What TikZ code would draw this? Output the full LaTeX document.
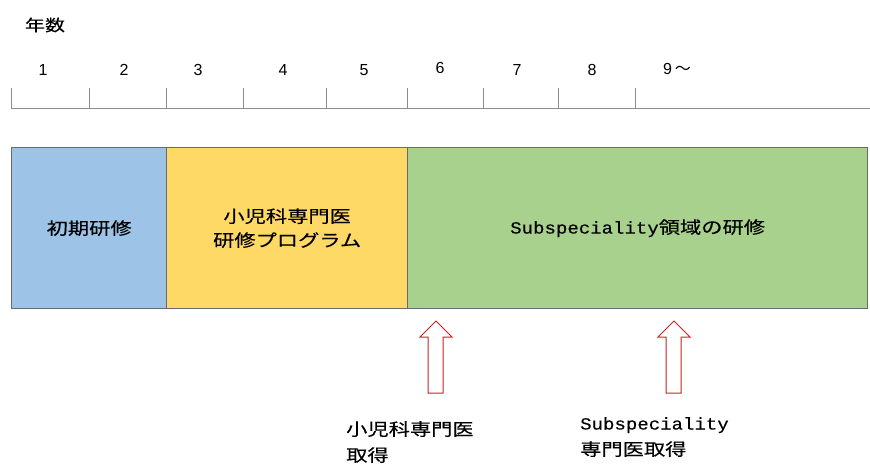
\documentclass[tikz,border=0pt]{standalone}
\usepackage{fontspec}
\setmainfont{Noto Sans CJK JP}[FakeStretch=1.25,FakeBold=0.3]
\newfontfamily\mono{Liberation Mono}[FakeStretch=1.12,FakeBold=0.3]
\newfontfamily\arial{Liberation Sans}
\newfontfamily\jpplain{Noto Sans CJK JP}
\definecolor{cblue}{HTML}{9DC3E6}
\definecolor{cyellow}{HTML}{FFD966}
\definecolor{cgreen}{HTML}{A9D18E}
\definecolor{cborder}{HTML}{6A6A6A}
\definecolor{caxis}{HTML}{8C8C8C}
\definecolor{cred}{HTML}{D02020}
\tikzset{
  period/.style={draw=cborder, line width=1.3pt, anchor=north west, inner sep=0pt, font=\fontsize{17}{24}\selectfont, align=center},
  yearnum/.style={font=\arial\fontsize{16}{18}\selectfont, inner sep=0pt},
  tick/.style={draw=caxis, line width=0.9pt},
  hollowarrow/.style={draw=cred, line width=1pt, fill=white},
  note/.style={font=\fontsize{17}{26}\selectfont, align=left, anchor=north west, inner sep=0pt}
}
\begin{document}
\begin{tikzpicture}[x=1pt,y=-1pt]
\useasboundingbox (0,0) rectangle (870,468);
% header
\node[font=\fontsize{16}{18}\selectfont, inner sep=0pt] (hdr) at (45,25) {年数};
% axis
\coordinate (axL) at (11,108);
\coordinate (axR) at (870,108);
\draw[tick] (axL) -- (axR);
\foreach \x in {11,89,166,243,326,407,483,558,635}{
  \draw[tick] (\x,88) -- (\x,108);
}
\node[yearnum] (y1) at (43,70) {1};
\node[yearnum] (y2) at (124,70) {2};
\node[yearnum] (y3) at (198,70) {3};
\node[yearnum] (y4) at (283,70) {4};
\node[yearnum] (y5) at (364,70) {5};
\node[yearnum] (y6) at (440,68) {6};
\node[yearnum] (y7) at (517,70) {7};
\node[yearnum] (y8) at (592,70) {8};
\node[yearnum, anchor=west] (y9) at (663,69) {9\,{\jpplain\fontsize{16}{18}\selectfont ～}};
% periods
\node[period, fill=cblue, minimum width=155pt, minimum height=161pt] (p1) at (11,147) {初期研修};
\node[period, fill=cyellow, minimum width=241pt, minimum height=161pt] (p2) at (166,147) {小児科専門医\\研修プログラム};
\node[period, fill=cgreen, minimum width=460pt, minimum height=161pt] (p3) at (407,147) {{\mono Subspeciality}領域の研修};
% arrows
\draw[hollowarrow] (436,321) -- (452,337) -- (443,337) -- (443,393) -- (428,393) -- (428,337) -- (420,337) -- cycle;
\draw[hollowarrow] (674,321) -- (690,337) -- (681,337) -- (681,393) -- (666,393) -- (666,337) -- (658,337) -- cycle;
% notes
\node[note] (n1) at (346,421) {小児科専門医\\取得};
\node[note] (n2) at (580,417) {{\mono Subspeciality}\\専門医取得};
\end{tikzpicture}
\end{document}
